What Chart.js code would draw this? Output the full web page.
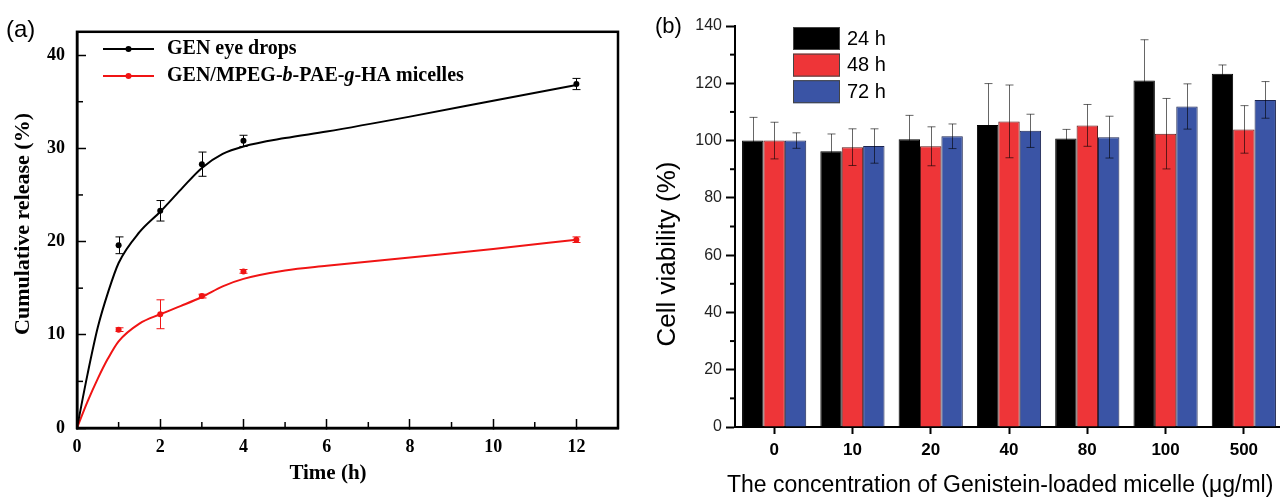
<!DOCTYPE html>
<html>
<head>
<meta charset="utf-8">
<script src="https://cdn.jsdelivr.net/npm/chart.js@4.4.0/dist/chart.umd.min.js"></script>
<style>
  html, body { margin: 0; padding: 0; background: #fff; overflow: hidden; width: 1280px; height: 499px; }
  #chartA { position: absolute; left: 0; top: 0; }
  #chartB { position: absolute; left: 640px; top: 0; }
</style>
</head>
<body>
<canvas id="chartA" width="640" height="499"></canvas>
<canvas id="chartB" width="660" height="499"></canvas>
<script>
// ---- panel (a): cumulative release ----
const releaseTimes = [1, 2, 3, 4, 12];
const eyeDropsMean = [19.6, 23.3, 28.3, 30.8, 36.9];
const eyeDropsErr = [0.9, 1.1, 1.3, 0.6, 0.6];
const micelleMean = [10.55, 12.2, 14.15, 16.8, 20.2];
const micelleErr = [0.2, 1.55, 0.2, 0.2, 0.3];

// fitted curves
const fitTimes = [0, 0.25, 0.5, 0.75, 1, 1.5, 2, 2.5, 3, 3.5, 4, 5, 6, 8, 10, 12];
const eyeDropsFit = [0, 5.7, 10.8, 14.6, 17.7, 21.0, 23.2, 25.6, 27.9, 29.4, 30.2, 31.1, 31.8, 33.4, 35.1, 36.8];
const micelleFit = [0, 2.8, 5.3, 7.5, 9.3, 11.2, 12.2, 13.1, 14.05, 15.2, 16.0, 16.9, 17.4, 18.3, 19.2, 20.2];

const xMinorA = [1, 3, 5, 7, 9, 11];
const yMinorA = [5, 15, 25, 35];

// ---- panel (b): cell viability ----
const concLabels = ['0', '10', '20', '40', '80', '100', '500'];
const via24 = [100, 96.3, 100.5, 105.4, 100.7, 121.0, 123.3];
const err24 = [8.1, 6.0, 8.3, 14.5, 3.2, 14.2, 3.1];
const via48 = [100, 97.7, 98.0, 106.7, 105.3, 102.4, 103.9];
const err48 = [6.4, 6.4, 6.8, 12.7, 7.3, 12.3, 8.3];
const via72 = [100, 98.1, 101.5, 103.4, 101.2, 111.9, 114.2];
const err72 = [2.7, 6.0, 4.3, 5.8, 7.3, 7.9, 6.4];
const yMinorB = [10, 30, 50, 70, 90, 110, 130];

const SERIF = '"Liberation Serif", "Times New Roman", serif';
const SANS = '"Liberation Sans", Arial, sans-serif';
const RED_A = '#f01414';
const RED_B = '#ee3538';
const BLUE_B = '#3a54a5';

function pts(xs, ys) {
  return xs.map((x, i) => ({ x: x, y: ys[i] }));
}

function line(ctx, x1, y1, x2, y2) {
  ctx.beginPath();
  ctx.moveTo(x1, y1);
  ctx.lineTo(x2, y2);
  ctx.stroke();
}

// frame, minor ticks, error bars, legend, titles for (a)
const decorA = {
  id: 'decorA',
  afterDatasetsDraw(chart) {
    const { ctx, scales: { x, y } } = chart;
    ctx.save();
    chart.data.datasets.forEach(ds => {
      if (!ds.errors) return;
      ctx.strokeStyle = ds.borderColor;
      ctx.lineWidth = 1;
      ds.data.forEach((p, i) => {
        const px = Math.round(x.getPixelForValue(p.x)) + 0.5;
        const t = y.getPixelForValue(p.y + ds.errors[i]);
        const b = y.getPixelForValue(p.y - ds.errors[i]);
        line(ctx, px, t, px, b);
        line(ctx, px - 4, t, px + 4, t);
        line(ctx, px - 4, b, px + 4, b);
      });
    });
    ctx.restore();
  },
  afterDraw(chart) {
    const { ctx, chartArea: a, scales: { x, y } } = chart;
    ctx.save();
    ctx.strokeStyle = '#000';
    ctx.lineWidth = 2.5;
    ctx.strokeRect(a.left, a.top, a.right - a.left, a.bottom - a.top);

    ctx.lineWidth = 1.5;
    xMinorA.forEach(v => {
      const px = x.getPixelForValue(v);
      line(ctx, px, a.bottom, px, a.bottom - 6);
    });
    yMinorA.forEach(v => {
      const py = y.getPixelForValue(v);
      line(ctx, a.left, py, a.left + 6, py);
    });

    // legend
    const rows = [
      { color: '#000', y: 49, parts: [['GEN eye drops', '']] },
      { color: RED_A, y: 76, parts: [['GEN/MPEG-', ''], ['b', 'italic '], ['-PAE-', ''], ['g', 'italic '], ['-HA micelles', '']] }
    ];
    rows.forEach(r => {
      ctx.strokeStyle = r.color;
      ctx.fillStyle = r.color;
      ctx.lineWidth = 2;
      line(ctx, 103, r.y, 154, r.y);
      ctx.beginPath();
      ctx.arc(128.5, r.y, 3, 0, Math.PI * 2);
      ctx.fill();
      ctx.fillStyle = '#000';
      ctx.textBaseline = 'middle';
      ctx.textAlign = 'left';
      let tx = 167;
      r.parts.forEach(([s, st]) => {
        ctx.font = st + 'bold 20px ' + SERIF;
        ctx.fillText(s, tx, r.y);
        tx += ctx.measureText(s).width;
      });
    });

    // titles
    ctx.fillStyle = '#000';
    ctx.textAlign = 'center';
    ctx.textBaseline = 'middle';
    ctx.font = 'bold 21px ' + SERIF;
    ctx.fillText('Time (h)', 328, 474);
    ctx.save();
    ctx.translate(23, 224);
    ctx.rotate(-Math.PI / 2);
    ctx.font = 'bold 22px ' + SERIF;
    ctx.fillText('Cumulative release (%)', 0, 0);
    ctx.restore();

    ctx.textAlign = 'left';
    ctx.font = '24px ' + SANS;
    ctx.fillText('(a)', 6, 30);
    ctx.restore();
  }
};

new Chart(document.getElementById('chartA'), {
  type: 'scatter',
  data: {
    datasets: [
      { data: pts(fitTimes, eyeDropsFit), showLine: true, borderColor: '#000', borderWidth: 2, pointRadius: 0, cubicInterpolationMode: 'monotone' },
      { data: pts(fitTimes, micelleFit), showLine: true, borderColor: RED_A, borderWidth: 2, pointRadius: 0, cubicInterpolationMode: 'monotone' },
      { data: pts(releaseTimes, eyeDropsMean), errors: eyeDropsErr, borderColor: '#000', backgroundColor: '#000', pointRadius: 3, borderWidth: 0 },
      { data: pts(releaseTimes, micelleMean), errors: micelleErr, borderColor: RED_A, backgroundColor: RED_A, pointRadius: 3, borderWidth: 0 }
    ]
  },
  options: {
    responsive: false,
    animation: false,
    devicePixelRatio: 1,
    layout: { padding: { top: 24, right: 22, left: 0, bottom: 0 } },
    plugins: { legend: { display: false }, tooltip: { enabled: false } },
    scales: {
      x: {
        type: 'linear', min: 0, max: 13,
        afterFit: s => { s.height = 71; },
        ticks: { stepSize: 2, includeBounds: false, padding: 18, color: '#000', maxRotation: 0, autoSkip: false,
                 font: { family: SERIF, weight: 'bold', size: 18 } },
        grid: { drawOnChartArea: false, tickLength: -9, tickWidth: 1.5, tickColor: '#000' },
        border: { color: '#000', width: 2.5 }
      },
      y: {
        min: 0, max: 42.5,
        afterFit: s => { s.width = 77; },
        ticks: { stepSize: 10, includeBounds: false, padding: 21, color: '#000',
                 font: { family: SERIF, weight: 'bold', size: 18 } },
        grid: { drawOnChartArea: false, tickLength: -9, tickWidth: 1.5, tickColor: '#000' },
        border: { color: '#000', width: 2.5 }
      }
    }
  },
  plugins: [decorA]
});

// error bars, minor ticks, legend, titles for (b)
const decorB = {
  id: 'decorB',
  afterDatasetsDraw(chart) {
    const { ctx, scales: { y } } = chart;
    ctx.save();
    ctx.strokeStyle = 'rgba(0, 0, 0, 0.6)';
    ctx.lineWidth = 1;
    chart.data.datasets.forEach((ds, i) => {
      chart.getDatasetMeta(i).data.forEach((bar, j) => {
        const px = Math.round(bar.x) + 0.5;
        const t = y.getPixelForValue(ds.data[j] + ds.errors[j]);
        const b = y.getPixelForValue(ds.data[j] - ds.errors[j]);
        line(ctx, px, t, px, b);
        line(ctx, px - 4, t, px + 4, t);
        line(ctx, px - 4, b, px + 4, b);
      });
    });
    ctx.restore();
  },
  afterDraw(chart) {
    const { ctx, chartArea: a, scales: { y } } = chart;
    ctx.save();
    ctx.strokeStyle = '#000';
    ctx.lineWidth = 2;
    yMinorB.forEach(v => {
      const py = y.getPixelForValue(v);
      line(ctx, a.left, py, a.left - 5, py);
    });

    // legend
    chart.data.datasets.forEach((ds, i) => {
      const top = 27 + i * 26.6;
      ctx.fillStyle = ds.backgroundColor;
      ctx.fillRect(153, top, 47, 23);
      ctx.strokeStyle = '#444';
      ctx.lineWidth = 1;
      ctx.strokeRect(153.5, top + 0.5, 46, 22);
      ctx.fillStyle = '#000';
      ctx.font = '20px ' + SANS;
      ctx.textAlign = 'left';
      ctx.textBaseline = 'middle';
      ctx.fillText(ds.label, 207, top + 12);
    });

    // titles
    ctx.fillStyle = '#000';
    ctx.textAlign = 'left';
    ctx.textBaseline = 'middle';
    ctx.font = '23px ' + SANS;
    ctx.fillText('The concentration of Genistein-loaded micelle (\u03bcg/ml)', 87, 486);
    ctx.save();
    ctx.translate(28, 254);
    ctx.rotate(-Math.PI / 2);
    ctx.textAlign = 'center';
    ctx.font = '26px ' + SANS;
    ctx.fillText('Cell viability (%)', 0, 0);
    ctx.restore();

    ctx.textAlign = 'left';
    ctx.font = '22px ' + SANS;
    ctx.fillText('(b)', 15, 27);
    ctx.restore();
  }
};

new Chart(document.getElementById('chartB'), {
  type: 'bar',
  data: {
    labels: concLabels,
    datasets: [
      { label: '24 h', data: via24, errors: err24, backgroundColor: '#000', borderColor: '#000' },
      { label: '48 h', data: via48, errors: err48, backgroundColor: RED_B, borderColor: '#5a1a1a' },
      { label: '72 h', data: via72, errors: err72, backgroundColor: BLUE_B, borderColor: '#1c2550' }
    ]
  },
  options: {
    responsive: false,
    animation: false,
    devicePixelRatio: 1,
    layout: { padding: { top: 26, right: 17, left: 0, bottom: 0 } },
    datasets: { bar: { categoryPercentage: 0.82, barPercentage: 1, borderWidth: 1 } },
    plugins: { legend: { display: false }, tooltip: { enabled: false } },
    scales: {
      x: {
        afterFit: s => { s.height = 72; },
        ticks: { padding: 6, color: '#000', font: { family: SANS, weight: 'bold', size: 17 } },
        grid: { offset: false, drawOnChartArea: false, tickLength: 7, tickWidth: 2, tickColor: '#000' },
        border: { color: '#000', width: 2 }
      },
      y: {
        min: 0, max: 140,
        afterFit: s => { s.width = 95; },
        ticks: { stepSize: 20, padding: 4, color: '#222', font: { family: SANS, size: 16 } },
        grid: { drawOnChartArea: false, tickLength: 9, tickWidth: 2, tickColor: '#000' },
        border: { color: '#000', width: 2 }
      }
    }
  },
  plugins: [decorB]
});
</script>
</body>
</html>
